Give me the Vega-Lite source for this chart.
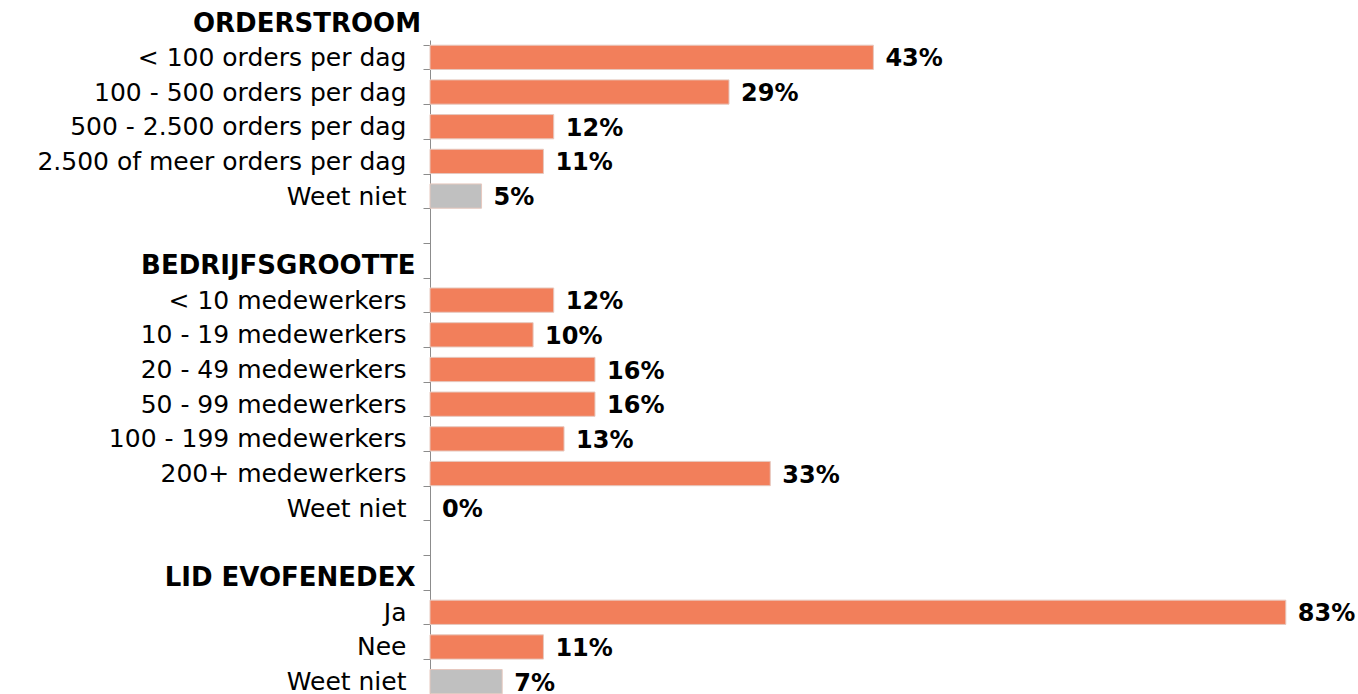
{
  "$schema": "https://vega.github.io/schema/vega-lite/v6.json",
  "autosize": {"type": "none"},
  "width": 928,
  "height": 659,
  "padding": {"left": 430, "top": 40, "right": 0, "bottom": 0},
  "background": "white",
  "config": {"view": {"stroke": null}, "font": "DejaVu Sans"},
  "title": {
    "text": "ORDERSTROOM",
    "anchor": "start",
    "frame": "group",
    "align": "right",
    "dx": -9,
    "dy": 37,
    "offset": 7,
    "baseline": "alphabetic",
    "fontSize": 26,
    "fontWeight": "bold",
    "font": "DejaVu Sans",
    "color": "#000000"
  },
  "data": {
    "values": [
      {"k": "< 100 orders per dag|1", "v": 43, "g": "a", "lab": "43%"},
      {"k": "100 - 500 orders per dag|2", "v": 29, "g": "a", "lab": "29%"},
      {"k": "500 - 2.500 orders per dag|3", "v": 12, "g": "a", "lab": "12%"},
      {"k": "2.500 of meer orders per dag|4", "v": 11, "g": "a", "lab": "11%"},
      {"k": "Weet niet|5", "v": 5, "g": "b", "lab": "5%"},
      {"k": "|6", "v": null, "g": "a", "lab": null},
      {"k": "BEDRIJFSGROOTTE|7", "v": null, "g": "a", "lab": null},
      {"k": "< 10 medewerkers|8", "v": 12, "g": "a", "lab": "12%"},
      {"k": "10 - 19 medewerkers|9", "v": 10, "g": "a", "lab": "10%"},
      {"k": "20 - 49 medewerkers|10", "v": 16, "g": "a", "lab": "16%"},
      {"k": "50 - 99 medewerkers|11", "v": 16, "g": "a", "lab": "16%"},
      {"k": "100 - 199 medewerkers|12", "v": 13, "g": "a", "lab": "13%"},
      {"k": "200+ medewerkers|13", "v": 33, "g": "a", "lab": "33%"},
      {"k": "Weet niet|14", "v": 0, "g": "a", "lab": "0%"},
      {"k": "|15", "v": null, "g": "a", "lab": null},
      {"k": "LID EVOFENEDEX|16", "v": null, "g": "a", "lab": null},
      {"k": "Ja|17", "v": 83, "g": "a", "lab": "83%"},
      {"k": "Nee|18", "v": 11, "g": "a", "lab": "11%"},
      {"k": "Weet niet|19", "v": 7, "g": "b", "lab": "7%"}
    ]
  },
  "encoding": {
    "y": {
      "field": "k",
      "type": "nominal",
      "sort": null,
      "scale": {
        "domain": ["< 100 orders per dag|1", "100 - 500 orders per dag|2", "500 - 2.500 orders per dag|3", "2.500 of meer orders per dag|4", "Weet niet|5", "|6", "BEDRIJFSGROOTTE|7", "< 10 medewerkers|8", "10 - 19 medewerkers|9", "20 - 49 medewerkers|10", "50 - 99 medewerkers|11", "100 - 199 medewerkers|12", "200+ medewerkers|13", "Weet niet|14", "|15", "LID EVOFENEDEX|16", "Ja|17", "Nee|18", "Weet niet|19"],
        "paddingInner": 0.3,
        "paddingOuter": 0.15
      },
      "axis": {
        "title": null,
        "labelExpr": "split(datum.label, '|')[0]",
        "labelFontSize": {"condition": {"test": "indexof(datum.label, 'BEDRIJFSGROOTTE') >= 0 || indexof(datum.label, 'LID EVOFENEDEX') >= 0", "value": 26}, "value": 25},
        "labelFont": "DejaVu Sans",
        "labelColor": "#000000",
        "labelFontWeight": {"condition": {"test": "indexof(datum.label, 'BEDRIJFSGROOTTE') >= 0 || indexof(datum.label, 'LID EVOFENEDEX') >= 0", "value": "bold"}, "value": "normal"},
        "labelPadding": {"condition": {"test": "indexof(datum.label, 'BEDRIJFSGROOTTE') >= 0 || indexof(datum.label, 'LID EVOFENEDEX') >= 0", "value": 8}, "value": 17},
        "tickSize": 7,
        "tickBand": "extent",
        "tickColor": "#8C8C8C",
        "domainColor": "#8C8C8C",
        "labelLimit": 500
      }
    },
    "x": {
      "field": "v",
      "type": "quantitative",
      "scale": {"domain": [0, 90], "nice": false},
      "axis": null
    }
  },
  "layer": [
    {
      "transform": [{"filter": "isValid(datum.v) && datum.v > 0"}],
      "mark": {"type": "bar", "stroke": "#E6C8BE", "strokeWidth": 1},
      "encoding": {
        "color": {
          "field": "g",
          "type": "nominal",
          "scale": {"domain": ["a", "b"], "range": ["#F27F5B", "#C0C0C0"]},
          "legend": null
        }
      }
    },
    {
      "transform": [{"filter": "isValid(datum.v)"}],
      "mark": {"type": "text", "align": "left", "dx": 12, "dy": 2, "fontSize": 24, "fontWeight": "bold", "font": "DejaVu Sans", "color": "#000000", "baseline": "middle"},
      "encoding": {"text": {"field": "lab"}}
    }
  ]
}
